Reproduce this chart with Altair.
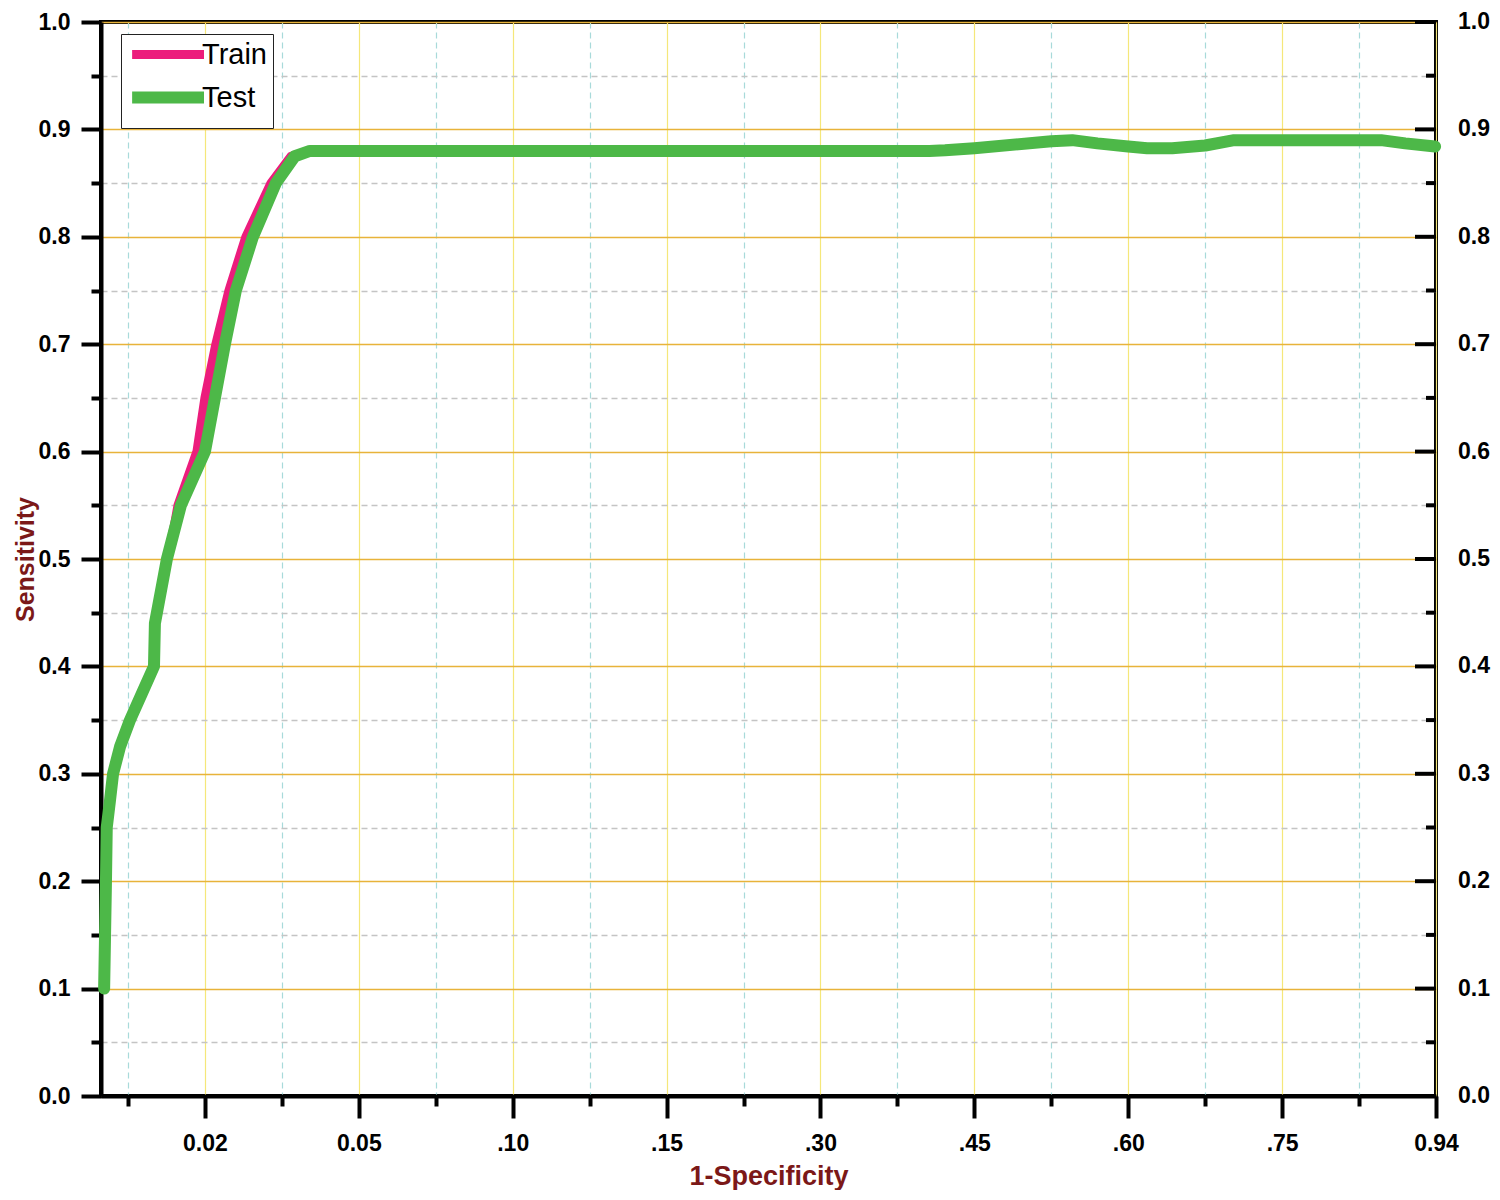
import altair as alt
import pandas as pd

# ---- data (x is the position index on the evenly spaced category axis) ----
x_labels = ["0.02", "0.05", ".10", ".15", ".30", ".45", ".60", ".75", "0.94"]
x_major = [1, 2, 3, 4, 5, 6, 7, 8, 9]
x_minor = [0.5, 1.5, 2.5, 3.5, 4.5, 5.5, 6.5, 7.5, 8.5]
y_major = [0.0, 0.1, 0.2, 0.3, 0.4, 0.5, 0.6, 0.7, 0.8, 0.9, 1.0]
y_minor = [0.05, 0.15, 0.25, 0.35, 0.45, 0.55, 0.65, 0.75, 0.85, 0.95]

test_x = [0.345, 0.351, 0.357, 0.362, 0.383, 0.403, 0.448, 0.513, 0.591, 0.669,
          0.675, 0.753, 0.844, 1.0, 1.065, 1.13, 1.201, 1.312, 1.461, 1.584,
          1.682, 5.708, 5.81, 6.0, 6.5, 6.636, 6.8, 7.0, 7.123, 7.286, 7.5, 7.688,
          8.0, 8.643, 8.8, 8.994]
test_y = [0.10, 0.15, 0.20, 0.25, 0.275, 0.30, 0.325, 0.35, 0.375, 0.40,
          0.44, 0.50, 0.55, 0.60, 0.65, 0.70, 0.75, 0.80, 0.85, 0.875,
          0.88, 0.88, 0.8805, 0.8825, 0.889, 0.890, 0.887, 0.884, 0.8825, 0.8825, 0.885, 0.890,
          0.890, 0.890, 0.887, 0.884]

train_x = [0.345, 0.351, 0.357, 0.362, 0.383, 0.403, 0.448, 0.513, 0.591, 0.669,
           0.675, 0.753, 0.80, 0.825, 0.948, 1.0, 1.071, 1.156, 1.266, 1.429, 1.56,
           1.682, 5.708, 5.81, 6.0, 6.5, 6.636, 6.8, 7.0, 7.123, 7.286, 7.5, 7.688,
           8.0, 8.643, 8.8, 8.994]
train_y = [0.10, 0.15, 0.20, 0.25, 0.275, 0.30, 0.325, 0.35, 0.375, 0.40,
           0.44, 0.50, 0.53, 0.55, 0.60, 0.65, 0.70, 0.75, 0.80, 0.85, 0.875,
           0.88, 0.88, 0.8805, 0.8825, 0.889, 0.890, 0.887, 0.884, 0.8825, 0.8825, 0.885, 0.890,
           0.890, 0.890, 0.887, 0.884]

series_names = ["Train", "Test"]
series_colors = ["#ec1c7c", "#4db848"]

W, H = 1335, 1074
X_DOMAIN = [1 - 104 / 154, 9]

train_df = pd.DataFrame({"x": train_x, "y": train_y, "series": "Train"})
test_df = pd.DataFrame({"x": test_x, "y": test_y, "series": "Test"})
ymaj_df = pd.DataFrame({"y": y_major, "lab": [f"{v:.1f}" for v in y_major]})
ymin_df = pd.DataFrame({"y": y_minor})

FONT = "Liberation Sans"
TITLE_COLOR = "#7b1818"
LABEL_SIZE = 23

xscale = alt.Scale(domain=X_DOMAIN, nice=False, zero=False)
yscale = alt.Scale(domain=[0, 1], nice=False, zero=False)

x_expr = " : ".join(
    [f"datum.value == {v} ? '{lab}'" for v, lab in zip(x_major, x_labels)]
) + " : ''"
x_is_major = "round(datum.value * 2) % 2 == 0"
y_is_major = "round(datum.value * 20) % 2 == 0"

x_axis = alt.Axis(
    values=sorted(x_major + x_minor),
    labelExpr=x_expr, labelFlush=False, labelOverlap=False,
    labelFont=FONT, labelFontSize=LABEL_SIZE, labelFontWeight="bold", labelColor="black",
    labelPadding=14,
    tickSize={"condition": {"test": x_is_major, "value": 22}, "value": 10},
    tickWidth=4, tickColor="black",
    domainWidth=4, domainColor="black",
    grid=True,
    gridColor={"condition": {"test": x_is_major, "value": "#f5e77a"}, "value": "#a8dada"},
    gridDash={"condition": {"test": x_is_major, "value": [1, 0]}, "value": [6, 4]},
    gridWidth=1.2,
    title="1-Specificity", titleFont=FONT, titleFontSize=27, titleFontWeight="bold",
    titleColor=TITLE_COLOR, titlePadding=8,
)

y_axis = alt.Axis(
    values=sorted(y_major + y_minor),
    labelExpr=f"{y_is_major} ? format(datum.value, '.1f') : ''",
    labelFlush=False, labelOverlap=False,
    labelFont=FONT, labelFontSize=LABEL_SIZE, labelFontWeight="bold", labelColor="black",
    labelPadding=11,
    tickSize={"condition": {"test": y_is_major, "value": 20}, "value": 10},
    tickWidth=4, tickColor="black",
    domainWidth=4, domainColor="black",
    grid=True,
    gridColor={"condition": {"test": y_is_major, "value": "#e8b33a"}, "value": "#c4c4c4"},
    gridDash={"condition": {"test": y_is_major, "value": [1, 0]}, "value": [6, 4]},
    gridWidth=1.4,
    title="Sensitivity", titleFont=FONT, titleFontSize=25, titleFontWeight="bold",
    titleColor=TITLE_COLOR, titlePadding=0,
)

legend = alt.Legend(
    orient="none", legendX=20, legendY=12, title=None,
    symbolType="M-1.5,0H10", symbolSize=156.25,
    labelFont=FONT, labelFontSize=29, labelColor="black", labelOffset=46,
    strokeColor="#222222", padding=6, fillColor="white", rowPadding=0,
)

color = alt.Color("series:N", scale=alt.Scale(domain=series_names, range=series_colors), legend=legend)
swidth = alt.StrokeWidth("series:N", scale=alt.Scale(domain=series_names, range=[9, 12]), legend=legend)

X = alt.X("x:Q", scale=xscale, axis=x_axis)
Y = alt.Y("y:Q", scale=yscale, axis=y_axis)

train_line = alt.Chart(train_df).mark_line(
    strokeCap="round", strokeJoin="round"
).encode(x=X, y=Y, color=color, strokeWidth=swidth)

test_line = alt.Chart(test_df).mark_line(
    strokeCap="round", strokeJoin="round"
).encode(x=X, y=Y, color=color, strokeWidth=swidth)

right_major = alt.Chart(ymaj_df).mark_rule(color="black", strokeWidth=4).encode(
    y=Y, x=alt.value(W - 21), x2=alt.value(W),
)
right_minor = alt.Chart(ymin_df).mark_rule(color="black", strokeWidth=4).encode(
    y=Y, x=alt.value(W - 10), x2=alt.value(W),
)
right_labels = alt.Chart(ymaj_df).mark_text(
    align="left", baseline="middle", font=FONT, fontSize=LABEL_SIZE, fontWeight="bold",
    color="black", dx=22,
).encode(y=Y, x=alt.value(W), text="lab:N")

chart = alt.layer(train_line, test_line, right_major, right_minor, right_labels).properties(
    width=W, height=H,
    autosize=alt.AutoSizeParams(type="none"),
    padding={"left": 93, "top": 14, "right": 56, "bottom": 94},
).configure_view(stroke="black", strokeWidth=4)

chart.save("out.html", embed_options={"renderer": "svg", "actions": False})
